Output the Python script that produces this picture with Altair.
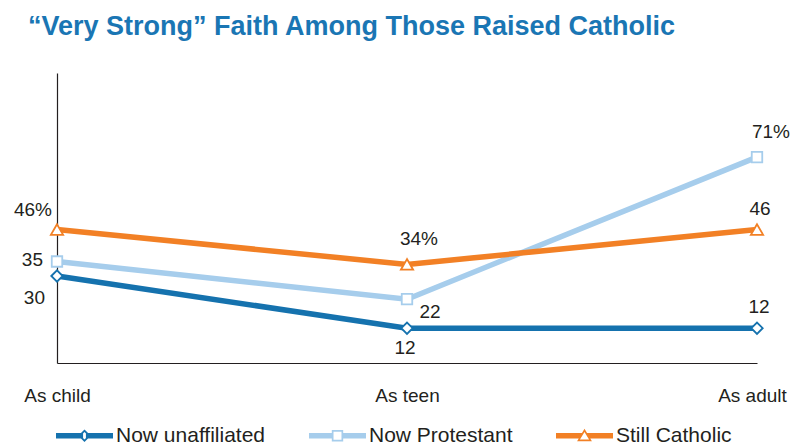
import altair as alt
import pandas as pd

stages = ["As child", "As teen", "As adult"]
series = ["Now unaffiliated", "Now Protestant", "Still Catholic"]
unaffiliated = [30, 12, 12]
protestant = [35, 22, 71]
catholic = [46, 34, 46]
unaffiliated_labels = ["30", "12", "12"]
protestant_labels = ["35", "22", "71%"]
catholic_labels = ["46%", "34%", "46"]

colors = ["#1572ae", "#a6cdec", "#f28025"]
shapes = ["diamond", "square", "triangle-up"]
sizes = [130, 110, 150]

values = [unaffiliated, protestant, catholic]
labels = [unaffiliated_labels, protestant_labels, catholic_labels]
rows = []
for s, vals, labs in zip(series, values, labels):
    for st, v, lab in zip(stages, vals, labs):
        rows.append({"stage": st, "series": s, "value": v, "label": lab})
df = pd.DataFrame(rows)

# label placement (dx, dy, align) per series and stage
label_style = {
    ("Now unaffiliated", "As child"): (-12, 22, "right"),
    ("Now Protestant", "As child"): (-14, -2, "right"),
    ("Still Catholic", "As child"): (-5, -20, "right"),
    ("Now unaffiliated", "As teen"): (-2, 20, "center"),
    ("Now Protestant", "As teen"): (23, 13, "center"),
    ("Still Catholic", "As teen"): (12, -25, "center"),
    ("Now unaffiliated", "As adult"): (2, -21, "center"),
    ("Now Protestant", "As adult"): (14, -25, "center"),
    ("Still Catholic", "As adult"): (3, -21, "center"),
}

# legend symbols: thick line with hollow marker (custom paths)
legend_paths = [
    "M-1,-0.1L-0.05,-0.1L-0.05,0.1L-1,0.1Z"
    "M0.05,-0.1L1,-0.1L1,0.1L0.05,0.1Z"
    "M0,-0.22L0.22,0L0,0.22L-0.22,0Z"
    "M0,-0.13L-0.13,0L0,0.13L0.13,0Z",
    "M-1,-0.1L-0.16,-0.1L-0.16,0.1L-1,0.1Z"
    "M0.16,-0.1L1,-0.1L1,0.1L0.16,0.1Z"
    "M-0.2,-0.2L0.2,-0.2L0.2,0.2L-0.2,0.2Z"
    "M-0.14,-0.14L-0.14,0.14L0.14,0.14L0.14,-0.14Z",
    "M-1,-0.1L-0.05,-0.1L-0.155,0.1L-1,0.1Z"
    "M0.05,-0.1L1,-0.1L1,0.1L0.155,0.1Z"
    "M0,-0.25L0.26,0.19L-0.26,0.19Z"
    "M0,-0.13L-0.16,0.135L0.16,0.135Z",
]

FONT = "Liberation Sans"
TEXT = "#231f20"

xenc = alt.X("stage:N", sort=stages,
             scale=alt.Scale(type="point", padding=0),
             axis=alt.Axis(title=None, labelAngle=0, ticks=False, grid=False,
                           domainColor=TEXT, domainWidth=1.2,
                           labelFont=FONT, labelFontSize=19, labelColor=TEXT,
                           labelPadding=23,
                           labelOffset={"condition": {"test": "datum.value === 'As adult'",
                                                      "value": -5},
                                        "value": 0}))
yenc = alt.Y("value:Q", scale=alt.Scale(domain=[0, 100], nice=False),
             axis=alt.Axis(title=None, labels=False, ticks=False, grid=False,
                           domainColor=TEXT, domainWidth=1.2))

base = alt.Chart(df).encode(x=xenc, y=yenc)

layers = []
for s, c in zip(series, colors):
    layers.append(base.transform_filter(alt.datum.series == s)
                  .mark_line(color=c, strokeWidth=5.5))
for s, c, sh, sz in zip(series, colors, shapes, sizes):
    layers.append(base.transform_filter(alt.datum.series == s)
                  .mark_point(shape=sh, filled=True, fill="white", stroke=c,
                              strokeWidth=1.8, size=sz, opacity=1))

legend_def = dict(title=None, orient="none", direction="horizontal",
                  legendX=-1, legendY=334,
                  symbolSize=3249, symbolOpacity=1,
                  symbolStrokeWidth=0, labelFont=FONT,
                  labelFontSize=21, labelColor=TEXT,
                  labelOffset=3, columnPadding=43)

legend_layer = base.mark_point(filled=True, opacity=0).encode(
    color=alt.Color("series:N", scale=alt.Scale(domain=series, range=colors),
                    sort=series, legend=alt.Legend(**legend_def)),
    shape=alt.Shape("series:N", scale=alt.Scale(domain=series, range=legend_paths),
                    sort=series, legend=alt.Legend(**legend_def)),
)
layers.append(legend_layer)

for (s, st), (dx, dy, al) in label_style.items():
    layers.append(base.transform_filter((alt.datum.series == s) & (alt.datum.stage == st))
                  .mark_text(dx=dx, dy=dy, align=al, baseline="middle",
                             font=FONT, fontSize=19, color=TEXT)
                  .encode(text="label:N"))

chart = alt.layer(*layers).properties(
    width=700, height=290,
    title=alt.TitleParams("“Very Strong” Faith Among Those Raised Catholic",
                          anchor="start", frame="group", dx=-29, offset=11,
                          baseline="alphabetic",
                          font=FONT, fontSize=27,
                          fontWeight="bold", color="#1a76b4"),
    autosize=alt.AutoSizeParams(type="none"),
    padding={"left": 49, "top": 65, "right": 34, "bottom": 82},
).configure_view(stroke=None)

chart.save("out.html", embed_options={"renderer": "svg", "actions": False})
